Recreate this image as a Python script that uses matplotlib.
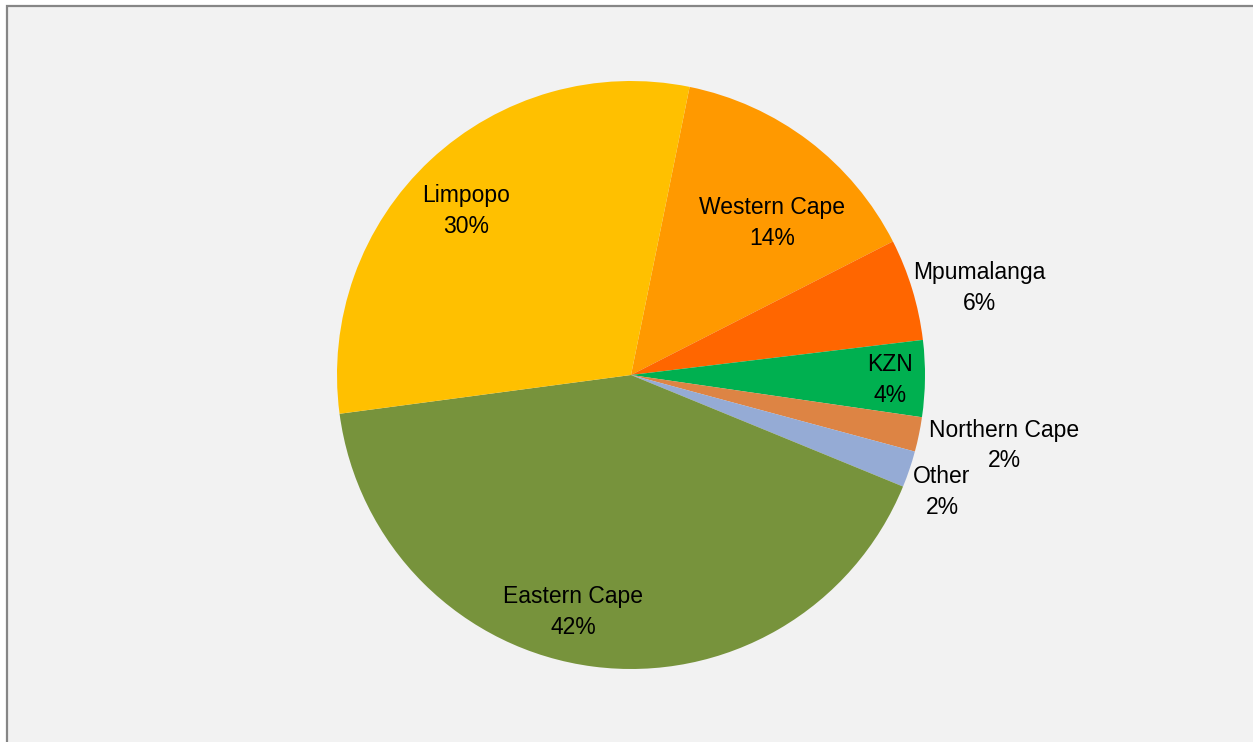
import matplotlib.pyplot as plt
from matplotlib.patches import Rectangle

# share by province, clockwise from the top
provinces = ['Western Cape', 'Mpumalanga', 'KZN', 'Northern Cape', 'Other',
             'Eastern Cape', 'Limpopo']
shares = [14.3, 5.6, 4.2, 1.9, 2.0, 41.7, 30.3]
colours = ['#FF9900', '#FF6600', '#00B050', '#DD8444', '#95ABD5',
           '#77933C', '#FFC000']

# label centres (pie radius = 1)
label_xy = [(0.480, 0.517), (1.184, 0.296), (0.881, -0.017), (1.269, -0.240),
            (1.058, -0.398), (-0.197, -0.806), (-0.561, 0.558)]

W, H = 1253, 742
cx, cy, R = 631, 375, 294

fig = plt.figure(figsize=(W / 100, H / 100), dpi=100)
fig.patch.set_facecolor('white')

# grey chart area with border
fig.patches.append(Rectangle((7 / W, -0.05), 1.05, (H - 6) / H + 0.05,
                             transform=fig.transFigure, facecolor='#F2F2F2',
                             edgecolor='#868686', linewidth=1.6, zorder=-10))

ax = fig.add_axes([0, 0, 1, 1])
ax.patch.set_alpha(0)
ax.pie(shares, colors=colours, startangle=90 - 11.5, counterclock=False,
       wedgeprops=dict(linewidth=0))
ax.set_xlim(-cx / R, (W - cx) / R)
ax.set_ylim(-(H - cy) / R, cy / R)
ax.set_aspect('auto')
ax.axis('off')

total = sum(shares)
for name, val, (x, y) in zip(provinces, shares, label_xy):
    ax.text(x, y, '%s\n%d%%' % (name, round(val / total * 100)),
            ha='center', va='center', fontsize=16.5, linespacing=1.4,
            family=['Liberation Sans Narrow', 'Liberation Sans'], color='black')

fig.savefig('out.png', dpi=100)
